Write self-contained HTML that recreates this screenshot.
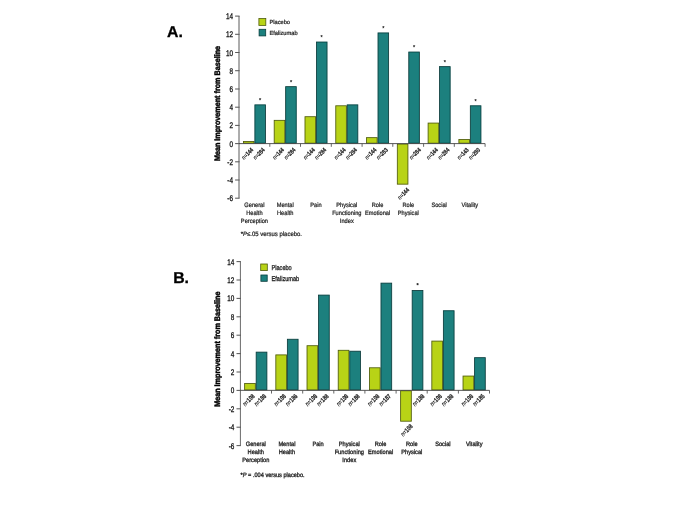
<!DOCTYPE html>
<html><head><meta charset="utf-8"><title>Figure</title>
<style>
html,body{margin:0;padding:0;background:#fff;}
body{width:685px;height:513px;overflow:hidden;font-family:"Liberation Sans",sans-serif;}
svg{display:block;font-family:"Liberation Sans",sans-serif;}
</style></head><body>
<svg width="685" height="513" viewBox="0 0 685 513" text-rendering="geometricPrecision">
<defs><filter id="soft" x="-5%" y="-5%" width="110%" height="110%"><feGaussianBlur stdDeviation="0.38"/></filter></defs>
<rect width="685" height="513" fill="#fff"/>
<g id="chartA" filter="url(#soft)">
<path d="M239.0 16.102000000000004V198.242" stroke="#6a6a6a" stroke-width="1.1" fill="none"/>
<path d="M235.1 198.2H239.55" stroke="#5a5a5a" stroke-width="1.05"/>
<text transform="translate(233.0,201.2) scale(0.78,1)" text-anchor="end" font-size="8.2" fill="#111" stroke="#111" stroke-width="0.3">-6</text>
<path d="M235.1 180.0H239.55" stroke="#5a5a5a" stroke-width="1.05"/>
<text transform="translate(233.0,183.0) scale(0.78,1)" text-anchor="end" font-size="8.2" fill="#111" stroke="#111" stroke-width="0.3">-4</text>
<path d="M235.1 161.8H239.55" stroke="#5a5a5a" stroke-width="1.05"/>
<text transform="translate(233.0,164.8) scale(0.78,1)" text-anchor="end" font-size="8.2" fill="#111" stroke="#111" stroke-width="0.3">-2</text>
<path d="M235.1 143.6H239.55" stroke="#5a5a5a" stroke-width="1.05"/>
<text transform="translate(233.0,146.6) scale(0.78,1)" text-anchor="end" font-size="8.2" fill="#111" stroke="#111" stroke-width="0.3">0</text>
<path d="M235.1 125.4H239.55" stroke="#5a5a5a" stroke-width="1.05"/>
<text transform="translate(233.0,128.4) scale(0.78,1)" text-anchor="end" font-size="8.2" fill="#111" stroke="#111" stroke-width="0.3">2</text>
<path d="M235.1 107.2H239.55" stroke="#5a5a5a" stroke-width="1.05"/>
<text transform="translate(233.0,110.2) scale(0.78,1)" text-anchor="end" font-size="8.2" fill="#111" stroke="#111" stroke-width="0.3">4</text>
<path d="M235.1 89.0H239.55" stroke="#5a5a5a" stroke-width="1.05"/>
<text transform="translate(233.0,92.0) scale(0.78,1)" text-anchor="end" font-size="8.2" fill="#111" stroke="#111" stroke-width="0.3">6</text>
<path d="M235.1 70.7H239.55" stroke="#5a5a5a" stroke-width="1.05"/>
<text transform="translate(233.0,73.7) scale(0.78,1)" text-anchor="end" font-size="8.2" fill="#111" stroke="#111" stroke-width="0.3">8</text>
<path d="M235.1 52.5H239.55" stroke="#5a5a5a" stroke-width="1.05"/>
<text transform="translate(233.0,55.5) scale(0.78,1)" text-anchor="end" font-size="8.2" fill="#111" stroke="#111" stroke-width="0.3">10</text>
<path d="M235.1 34.3H239.55" stroke="#5a5a5a" stroke-width="1.05"/>
<text transform="translate(233.0,37.3) scale(0.78,1)" text-anchor="end" font-size="8.2" fill="#111" stroke="#111" stroke-width="0.3">12</text>
<path d="M235.1 16.1H239.55" stroke="#5a5a5a" stroke-width="1.05"/>
<text transform="translate(233.0,19.1) scale(0.78,1)" text-anchor="end" font-size="8.2" fill="#111" stroke="#111" stroke-width="0.3">14</text>
<rect x="243.43" y="141.48" width="10.60" height="1.70" fill="#b8d316" stroke="#4f5c0a" stroke-width="0.85"/>
<text transform="translate(253.7,150.4) rotate(-45) scale(0.78,1)" text-anchor="end" font-size="6.2" fill="#161616" stroke="#161616" stroke-width="0.18"><tspan font-style="italic">n</tspan>=<tspan font-weight="bold">144</tspan></text>
<rect x="254.88" y="104.86" width="10.60" height="38.31" fill="#1a807e" stroke="#083c3c" stroke-width="0.85"/>
<text transform="translate(265.2,150.4) rotate(-45) scale(0.78,1)" text-anchor="end" font-size="6.2" fill="#161616" stroke="#161616" stroke-width="0.18"><tspan font-style="italic">n</tspan>=<tspan font-weight="bold">284</tspan></text>
<text x="260.2" y="101.8" text-anchor="middle" font-size="5.6" fill="#262626" stroke="#262626" stroke-width="0.24">*</text>
<rect x="274.20" y="120.35" width="10.60" height="22.83" fill="#b8d316" stroke="#4f5c0a" stroke-width="0.85"/>
<text transform="translate(284.5,150.4) rotate(-45) scale(0.78,1)" text-anchor="end" font-size="6.2" fill="#161616" stroke="#161616" stroke-width="0.18"><tspan font-style="italic">n</tspan>=<tspan font-weight="bold">144</tspan></text>
<rect x="285.65" y="86.65" width="10.60" height="56.52" fill="#1a807e" stroke="#083c3c" stroke-width="0.85"/>
<text transform="translate(296.0,150.4) rotate(-45) scale(0.78,1)" text-anchor="end" font-size="6.2" fill="#161616" stroke="#161616" stroke-width="0.18"><tspan font-style="italic">n</tspan>=<tspan font-weight="bold">284</tspan></text>
<text x="291.0" y="83.6" text-anchor="middle" font-size="5.6" fill="#262626" stroke="#262626" stroke-width="0.24">*</text>
<rect x="304.99" y="116.70" width="10.60" height="26.47" fill="#b8d316" stroke="#4f5c0a" stroke-width="0.85"/>
<text transform="translate(315.3,150.4) rotate(-45) scale(0.78,1)" text-anchor="end" font-size="6.2" fill="#161616" stroke="#161616" stroke-width="0.18"><tspan font-style="italic">n</tspan>=<tspan font-weight="bold">144</tspan></text>
<rect x="316.44" y="42.03" width="10.60" height="101.15" fill="#1a807e" stroke="#083c3c" stroke-width="0.85"/>
<text transform="translate(326.7,150.4) rotate(-45) scale(0.78,1)" text-anchor="end" font-size="6.2" fill="#161616" stroke="#161616" stroke-width="0.18"><tspan font-style="italic">n</tspan>=<tspan font-weight="bold">284</tspan></text>
<text x="321.7" y="39.0" text-anchor="middle" font-size="5.6" fill="#262626" stroke="#262626" stroke-width="0.24">*</text>
<rect x="335.77" y="105.78" width="10.60" height="37.40" fill="#b8d316" stroke="#4f5c0a" stroke-width="0.85"/>
<text transform="translate(346.1,150.4) rotate(-45) scale(0.78,1)" text-anchor="end" font-size="6.2" fill="#161616" stroke="#161616" stroke-width="0.18"><tspan font-style="italic">n</tspan>=<tspan font-weight="bold">144</tspan></text>
<rect x="347.22" y="104.86" width="10.60" height="38.31" fill="#1a807e" stroke="#083c3c" stroke-width="0.85"/>
<text transform="translate(357.5,150.4) rotate(-45) scale(0.78,1)" text-anchor="end" font-size="6.2" fill="#161616" stroke="#161616" stroke-width="0.18"><tspan font-style="italic">n</tspan>=<tspan font-weight="bold">284</tspan></text>
<rect x="366.55" y="137.65" width="10.60" height="5.52" fill="#b8d316" stroke="#4f5c0a" stroke-width="0.85"/>
<text transform="translate(376.8,150.4) rotate(-45) scale(0.78,1)" text-anchor="end" font-size="6.2" fill="#161616" stroke="#161616" stroke-width="0.18"><tspan font-style="italic">n</tspan>=<tspan font-weight="bold">144</tspan></text>
<rect x="378.00" y="32.92" width="10.60" height="110.26" fill="#1a807e" stroke="#083c3c" stroke-width="0.85"/>
<text transform="translate(388.3,150.4) rotate(-45) scale(0.78,1)" text-anchor="end" font-size="6.2" fill="#161616" stroke="#161616" stroke-width="0.18"><tspan font-style="italic">n</tspan>=<tspan font-weight="bold">283</tspan></text>
<text x="383.3" y="29.9" text-anchor="middle" font-size="5.6" fill="#262626" stroke="#262626" stroke-width="0.24">*</text>
<rect x="397.32" y="144.03" width="10.60" height="40.13" fill="#b8d316" stroke="#4f5c0a" stroke-width="0.85"/>
<text transform="translate(409.6,190.4) rotate(-45) scale(0.78,1)" text-anchor="end" font-size="6.2" fill="#161616" stroke="#161616" stroke-width="0.18"><tspan font-style="italic">n</tspan>=<tspan font-weight="bold">144</tspan></text>
<rect x="408.77" y="52.04" width="10.60" height="91.13" fill="#1a807e" stroke="#083c3c" stroke-width="0.85"/>
<text transform="translate(421.3,150.4) rotate(-45) scale(0.78,1)" text-anchor="end" font-size="6.2" fill="#161616" stroke="#161616" stroke-width="0.18"><tspan font-style="italic">n</tspan>=<tspan font-weight="bold">284</tspan></text>
<text x="414.1" y="49.0" text-anchor="middle" font-size="5.6" fill="#262626" stroke="#262626" stroke-width="0.24">*</text>
<rect x="428.11" y="123.08" width="10.60" height="20.10" fill="#b8d316" stroke="#4f5c0a" stroke-width="0.85"/>
<text transform="translate(438.4,150.4) rotate(-45) scale(0.78,1)" text-anchor="end" font-size="6.2" fill="#161616" stroke="#161616" stroke-width="0.18"><tspan font-style="italic">n</tspan>=<tspan font-weight="bold">144</tspan></text>
<rect x="439.56" y="66.62" width="10.60" height="76.56" fill="#1a807e" stroke="#083c3c" stroke-width="0.85"/>
<text transform="translate(449.9,150.4) rotate(-45) scale(0.78,1)" text-anchor="end" font-size="6.2" fill="#161616" stroke="#161616" stroke-width="0.18"><tspan font-style="italic">n</tspan>=<tspan font-weight="bold">284</tspan></text>
<text x="444.9" y="63.6" text-anchor="middle" font-size="5.6" fill="#262626" stroke="#262626" stroke-width="0.24">*</text>
<rect x="458.89" y="139.47" width="10.60" height="3.70" fill="#b8d316" stroke="#4f5c0a" stroke-width="0.85"/>
<text transform="translate(469.2,150.4) rotate(-45) scale(0.78,1)" text-anchor="end" font-size="6.2" fill="#161616" stroke="#161616" stroke-width="0.18"><tspan font-style="italic">n</tspan>=<tspan font-weight="bold">143</tspan></text>
<rect x="470.34" y="105.78" width="10.60" height="37.40" fill="#1a807e" stroke="#083c3c" stroke-width="0.85"/>
<text transform="translate(480.6,150.4) rotate(-45) scale(0.78,1)" text-anchor="end" font-size="6.2" fill="#161616" stroke="#161616" stroke-width="0.18"><tspan font-style="italic">n</tspan>=<tspan font-weight="bold">280</tspan></text>
<text x="475.6" y="102.8" text-anchor="middle" font-size="5.6" fill="#262626" stroke="#262626" stroke-width="0.24">*</text>
<path d="M239.0 143.6H485.1" stroke="#444" stroke-width="0.9" fill="none"/>
<path d="M269.8 143.6v3.2" stroke="#4a4a4a" stroke-width="0.85"/>
<path d="M300.5 143.6v3.2" stroke="#4a4a4a" stroke-width="0.85"/>
<path d="M331.3 143.6v3.2" stroke="#4a4a4a" stroke-width="0.85"/>
<path d="M362.1 143.6v3.2" stroke="#4a4a4a" stroke-width="0.85"/>
<path d="M392.8 143.6v3.2" stroke="#4a4a4a" stroke-width="0.85"/>
<path d="M423.6 143.6v3.2" stroke="#4a4a4a" stroke-width="0.85"/>
<path d="M454.3 143.6v3.2" stroke="#4a4a4a" stroke-width="0.85"/>
<path d="M485.1 143.6v3.2" stroke="#4a4a4a" stroke-width="0.85"/>
<rect x="258.9" y="18.5" width="6.9" height="6.9" fill="#b8d316" stroke="#4f5c0a" stroke-width="0.8"/>
<rect x="259.09999999999997" y="29.3" width="6.6000000000000005" height="6.6000000000000005" fill="#1a807e" stroke="#083c3c" stroke-width="0.8"/>
<text transform="translate(269.4,24.1) scale(0.97,1)" font-size="5.9" fill="#262626" stroke="#262626" stroke-width="0.24">Placebo</text>
<text transform="translate(269.4,34.9) scale(0.97,1)" font-size="5.9" fill="#262626" stroke="#262626" stroke-width="0.24">Efalizumab</text>
<text transform="translate(254.4,207.2) scale(0.9,1)" text-anchor="middle" font-size="6.3" fill="#262626" stroke="#262626" stroke-width="0.24">General</text>
<text transform="translate(254.4,215.1) scale(0.9,1)" text-anchor="middle" font-size="6.3" fill="#262626" stroke="#262626" stroke-width="0.24">Health</text>
<text transform="translate(254.4,222.8) scale(0.9,1)" text-anchor="middle" font-size="6.3" fill="#262626" stroke="#262626" stroke-width="0.24">Perception</text>
<text transform="translate(285.2,207.2) scale(0.9,1)" text-anchor="middle" font-size="6.3" fill="#262626" stroke="#262626" stroke-width="0.24">Mental</text>
<text transform="translate(285.2,215.1) scale(0.9,1)" text-anchor="middle" font-size="6.3" fill="#262626" stroke="#262626" stroke-width="0.24">Health</text>
<text transform="translate(316.0,207.2) scale(0.9,1)" text-anchor="middle" font-size="6.3" fill="#262626" stroke="#262626" stroke-width="0.24">Pain</text>
<text transform="translate(346.8,207.2) scale(0.9,1)" text-anchor="middle" font-size="6.3" fill="#262626" stroke="#262626" stroke-width="0.24">Physical</text>
<text transform="translate(346.8,215.1) scale(0.9,1)" text-anchor="middle" font-size="6.3" fill="#262626" stroke="#262626" stroke-width="0.24">Functioning</text>
<text transform="translate(346.8,222.8) scale(0.9,1)" text-anchor="middle" font-size="6.3" fill="#262626" stroke="#262626" stroke-width="0.24">Index</text>
<text transform="translate(377.6,207.2) scale(0.9,1)" text-anchor="middle" font-size="6.3" fill="#262626" stroke="#262626" stroke-width="0.24">Role</text>
<text transform="translate(377.6,215.1) scale(0.9,1)" text-anchor="middle" font-size="6.3" fill="#262626" stroke="#262626" stroke-width="0.24">Emotional</text>
<text transform="translate(408.3,207.2) scale(0.9,1)" text-anchor="middle" font-size="6.3" fill="#262626" stroke="#262626" stroke-width="0.24">Role</text>
<text transform="translate(408.3,215.1) scale(0.9,1)" text-anchor="middle" font-size="6.3" fill="#262626" stroke="#262626" stroke-width="0.24">Physical</text>
<text transform="translate(439.1,207.2) scale(0.9,1)" text-anchor="middle" font-size="6.3" fill="#262626" stroke="#262626" stroke-width="0.24">Social</text>
<text transform="translate(469.9,207.2) scale(0.9,1)" text-anchor="middle" font-size="6.3" fill="#262626" stroke="#262626" stroke-width="0.24">Vitality</text>
<text transform="translate(240.8,236.25) scale(0.945,1)" font-size="6.3" fill="#262626" stroke="#262626" stroke-width="0.24">*<tspan font-style="italic">P</tspan>≤.05 versus placebo.</text>
<text transform="translate(219.8,103.5) rotate(-90) scale(0.9,1)" text-anchor="middle" font-size="8" font-weight="bold" fill="#050505" stroke="#050505" stroke-width="0.42">Mean Improvement from Baseline</text>
<text x="167.0" y="37.0" font-size="15.8" font-weight="bold" fill="#000" stroke="#000" stroke-width="0.3">A.</text>
</g>
<g id="chartB" filter="url(#soft)">
<path d="M240.4 261.55000000000007V445.55" stroke="#6a6a6a" stroke-width="1.0" fill="none"/>
<path d="M236.5 445.6H240.90" stroke="#5a5a5a" stroke-width="1.05"/>
<text transform="translate(234.4,448.6) scale(0.78,1)" text-anchor="end" font-size="8.2" fill="#111" stroke="#111" stroke-width="0.3">-6</text>
<path d="M236.5 427.2H240.90" stroke="#5a5a5a" stroke-width="1.05"/>
<text transform="translate(234.4,430.2) scale(0.78,1)" text-anchor="end" font-size="8.2" fill="#111" stroke="#111" stroke-width="0.3">-4</text>
<path d="M236.5 408.8H240.90" stroke="#5a5a5a" stroke-width="1.05"/>
<text transform="translate(234.4,411.8) scale(0.78,1)" text-anchor="end" font-size="8.2" fill="#111" stroke="#111" stroke-width="0.3">-2</text>
<path d="M236.5 390.4H240.90" stroke="#5a5a5a" stroke-width="1.05"/>
<text transform="translate(234.4,393.4) scale(0.78,1)" text-anchor="end" font-size="8.2" fill="#111" stroke="#111" stroke-width="0.3">0</text>
<path d="M236.5 372.0H240.90" stroke="#5a5a5a" stroke-width="1.05"/>
<text transform="translate(234.4,375.0) scale(0.78,1)" text-anchor="end" font-size="8.2" fill="#111" stroke="#111" stroke-width="0.3">2</text>
<path d="M236.5 353.6H240.90" stroke="#5a5a5a" stroke-width="1.05"/>
<text transform="translate(234.4,356.6) scale(0.78,1)" text-anchor="end" font-size="8.2" fill="#111" stroke="#111" stroke-width="0.3">4</text>
<path d="M236.5 335.2H240.90" stroke="#5a5a5a" stroke-width="1.05"/>
<text transform="translate(234.4,338.2) scale(0.78,1)" text-anchor="end" font-size="8.2" fill="#111" stroke="#111" stroke-width="0.3">6</text>
<path d="M236.5 316.8H240.90" stroke="#5a5a5a" stroke-width="1.05"/>
<text transform="translate(234.4,319.8) scale(0.78,1)" text-anchor="end" font-size="8.2" fill="#111" stroke="#111" stroke-width="0.3">8</text>
<path d="M236.5 298.4H240.90" stroke="#5a5a5a" stroke-width="1.05"/>
<text transform="translate(234.4,301.4) scale(0.78,1)" text-anchor="end" font-size="8.2" fill="#111" stroke="#111" stroke-width="0.3">10</text>
<path d="M236.5 280.0H240.90" stroke="#5a5a5a" stroke-width="1.05"/>
<text transform="translate(234.4,283.0) scale(0.78,1)" text-anchor="end" font-size="8.2" fill="#111" stroke="#111" stroke-width="0.3">12</text>
<path d="M236.5 261.6H240.90" stroke="#5a5a5a" stroke-width="1.05"/>
<text transform="translate(234.4,264.6) scale(0.78,1)" text-anchor="end" font-size="8.2" fill="#111" stroke="#111" stroke-width="0.3">14</text>
<rect x="244.62" y="383.42" width="10.70" height="6.51" fill="#b8d316" stroke="#4f5c0a" stroke-width="0.85"/>
<text transform="translate(255.2,396.7) rotate(-45) scale(0.755,1)" text-anchor="end" font-size="6.6" fill="#161616" stroke="#161616" stroke-width="0.18"><tspan font-style="italic">n</tspan>=<tspan font-weight="bold">108</tspan></text>
<rect x="256.18" y="352.14" width="10.70" height="37.79" fill="#1a807e" stroke="#083c3c" stroke-width="0.85"/>
<text transform="translate(266.7,396.7) rotate(-45) scale(0.755,1)" text-anchor="end" font-size="6.6" fill="#161616" stroke="#161616" stroke-width="0.18"><tspan font-style="italic">n</tspan>=<tspan font-weight="bold">188</tspan></text>
<rect x="275.82" y="354.90" width="10.70" height="35.03" fill="#b8d316" stroke="#4f5c0a" stroke-width="0.85"/>
<text transform="translate(286.4,396.7) rotate(-45) scale(0.755,1)" text-anchor="end" font-size="6.6" fill="#161616" stroke="#161616" stroke-width="0.18"><tspan font-style="italic">n</tspan>=<tspan font-weight="bold">108</tspan></text>
<rect x="287.38" y="339.26" width="10.70" height="50.67" fill="#1a807e" stroke="#083c3c" stroke-width="0.85"/>
<text transform="translate(297.9,396.7) rotate(-45) scale(0.755,1)" text-anchor="end" font-size="6.6" fill="#161616" stroke="#161616" stroke-width="0.18"><tspan font-style="italic">n</tspan>=<tspan font-weight="bold">186</tspan></text>
<rect x="307.02" y="345.70" width="10.70" height="44.23" fill="#b8d316" stroke="#4f5c0a" stroke-width="0.85"/>
<text transform="translate(317.6,396.7) rotate(-45) scale(0.755,1)" text-anchor="end" font-size="6.6" fill="#161616" stroke="#161616" stroke-width="0.18"><tspan font-style="italic">n</tspan>=<tspan font-weight="bold">108</tspan></text>
<rect x="318.57" y="295.10" width="10.70" height="94.83" fill="#1a807e" stroke="#083c3c" stroke-width="0.85"/>
<text transform="translate(329.1,396.7) rotate(-45) scale(0.755,1)" text-anchor="end" font-size="6.6" fill="#161616" stroke="#161616" stroke-width="0.18"><tspan font-style="italic">n</tspan>=<tspan font-weight="bold">188</tspan></text>
<rect x="338.22" y="350.30" width="10.70" height="39.63" fill="#b8d316" stroke="#4f5c0a" stroke-width="0.85"/>
<text transform="translate(348.8,396.7) rotate(-45) scale(0.755,1)" text-anchor="end" font-size="6.6" fill="#161616" stroke="#161616" stroke-width="0.18"><tspan font-style="italic">n</tspan>=<tspan font-weight="bold">108</tspan></text>
<rect x="349.77" y="351.22" width="10.70" height="38.71" fill="#1a807e" stroke="#083c3c" stroke-width="0.85"/>
<text transform="translate(360.3,396.7) rotate(-45) scale(0.755,1)" text-anchor="end" font-size="6.6" fill="#161616" stroke="#161616" stroke-width="0.18"><tspan font-style="italic">n</tspan>=<tspan font-weight="bold">188</tspan></text>
<rect x="369.43" y="367.78" width="10.70" height="22.15" fill="#b8d316" stroke="#4f5c0a" stroke-width="0.85"/>
<text transform="translate(380.0,396.7) rotate(-45) scale(0.755,1)" text-anchor="end" font-size="6.6" fill="#161616" stroke="#161616" stroke-width="0.18"><tspan font-style="italic">n</tspan>=<tspan font-weight="bold">108</tspan></text>
<rect x="380.98" y="283.14" width="10.70" height="106.79" fill="#1a807e" stroke="#083c3c" stroke-width="0.85"/>
<text transform="translate(391.5,396.7) rotate(-45) scale(0.755,1)" text-anchor="end" font-size="6.6" fill="#161616" stroke="#161616" stroke-width="0.18"><tspan font-style="italic">n</tspan>=<tspan font-weight="bold">187</tspan></text>
<rect x="400.62" y="390.78" width="10.70" height="30.43" fill="#b8d316" stroke="#4f5c0a" stroke-width="0.85"/>
<text transform="translate(413.2,426.9) rotate(-45) scale(0.755,1)" text-anchor="end" font-size="6.6" fill="#161616" stroke="#161616" stroke-width="0.18"><tspan font-style="italic">n</tspan>=<tspan font-weight="bold">108</tspan></text>
<rect x="412.18" y="290.50" width="10.70" height="99.43" fill="#1a807e" stroke="#083c3c" stroke-width="0.85"/>
<text transform="translate(424.9,396.7) rotate(-45) scale(0.755,1)" text-anchor="end" font-size="6.6" fill="#161616" stroke="#161616" stroke-width="0.18"><tspan font-style="italic">n</tspan>=<tspan font-weight="bold">188</tspan></text>
<text x="417.5" y="286.8" text-anchor="middle" font-size="5.6" fill="#262626" stroke="#262626" stroke-width="0.32">*</text>
<rect x="431.82" y="341.10" width="10.70" height="48.83" fill="#b8d316" stroke="#4f5c0a" stroke-width="0.85"/>
<text transform="translate(442.4,396.7) rotate(-45) scale(0.755,1)" text-anchor="end" font-size="6.6" fill="#161616" stroke="#161616" stroke-width="0.18"><tspan font-style="italic">n</tspan>=<tspan font-weight="bold">108</tspan></text>
<rect x="443.38" y="310.74" width="10.70" height="79.19" fill="#1a807e" stroke="#083c3c" stroke-width="0.85"/>
<text transform="translate(453.9,396.7) rotate(-45) scale(0.755,1)" text-anchor="end" font-size="6.6" fill="#161616" stroke="#161616" stroke-width="0.18"><tspan font-style="italic">n</tspan>=<tspan font-weight="bold">188</tspan></text>
<rect x="463.03" y="376.06" width="10.70" height="13.87" fill="#b8d316" stroke="#4f5c0a" stroke-width="0.85"/>
<text transform="translate(473.6,396.7) rotate(-45) scale(0.755,1)" text-anchor="end" font-size="6.6" fill="#161616" stroke="#161616" stroke-width="0.18"><tspan font-style="italic">n</tspan>=<tspan font-weight="bold">108</tspan></text>
<rect x="474.58" y="357.66" width="10.70" height="32.27" fill="#1a807e" stroke="#083c3c" stroke-width="0.85"/>
<text transform="translate(485.1,396.7) rotate(-45) scale(0.755,1)" text-anchor="end" font-size="6.6" fill="#161616" stroke="#161616" stroke-width="0.18"><tspan font-style="italic">n</tspan>=<tspan font-weight="bold">185</tspan></text>
<path d="M240.4 390.35H489.5" stroke="#444" stroke-width="0.9" fill="none"/>
<path d="M271.5 390.35v3.2" stroke="#4a4a4a" stroke-width="0.85"/>
<path d="M302.7 390.35v3.2" stroke="#4a4a4a" stroke-width="0.85"/>
<path d="M333.8 390.35v3.2" stroke="#4a4a4a" stroke-width="0.85"/>
<path d="M364.9 390.35v3.2" stroke="#4a4a4a" stroke-width="0.85"/>
<path d="M396.1 390.35v3.2" stroke="#4a4a4a" stroke-width="0.85"/>
<path d="M427.2 390.35v3.2" stroke="#4a4a4a" stroke-width="0.85"/>
<path d="M458.4 390.35v3.2" stroke="#4a4a4a" stroke-width="0.85"/>
<path d="M489.5 390.35v3.2" stroke="#4a4a4a" stroke-width="0.85"/>
<rect x="260.7" y="264.0" width="6.6" height="6.6" fill="#b8d316" stroke="#4f5c0a" stroke-width="0.8"/>
<rect x="260.9" y="275.0" width="6.3" height="6.3" fill="#1a807e" stroke="#083c3c" stroke-width="0.8"/>
<text transform="translate(271.5,270.4) scale(0.8,1)" font-size="7.0" fill="#262626" stroke="#262626" stroke-width="0.32">Placebo</text>
<text transform="translate(271.5,280.9) scale(0.8,1)" font-size="7.0" fill="#262626" stroke="#262626" stroke-width="0.32">Efalizumab</text>
<text transform="translate(255.8,445.9) scale(0.9,1)" text-anchor="middle" font-size="6.3" fill="#262626" stroke="#262626" stroke-width="0.32">General</text>
<text transform="translate(255.8,453.8) scale(0.9,1)" text-anchor="middle" font-size="6.3" fill="#262626" stroke="#262626" stroke-width="0.32">Health</text>
<text transform="translate(255.8,461.6) scale(0.9,1)" text-anchor="middle" font-size="6.3" fill="#262626" stroke="#262626" stroke-width="0.32">Perception</text>
<text transform="translate(286.9,445.9) scale(0.9,1)" text-anchor="middle" font-size="6.3" fill="#262626" stroke="#262626" stroke-width="0.32">Mental</text>
<text transform="translate(286.9,453.8) scale(0.9,1)" text-anchor="middle" font-size="6.3" fill="#262626" stroke="#262626" stroke-width="0.32">Health</text>
<text transform="translate(318.1,445.9) scale(0.9,1)" text-anchor="middle" font-size="6.3" fill="#262626" stroke="#262626" stroke-width="0.32">Pain</text>
<text transform="translate(349.3,445.9) scale(0.9,1)" text-anchor="middle" font-size="6.3" fill="#262626" stroke="#262626" stroke-width="0.32">Physical</text>
<text transform="translate(349.3,453.8) scale(0.9,1)" text-anchor="middle" font-size="6.3" fill="#262626" stroke="#262626" stroke-width="0.32">Functioning</text>
<text transform="translate(349.3,461.6) scale(0.9,1)" text-anchor="middle" font-size="6.3" fill="#262626" stroke="#262626" stroke-width="0.32">Index</text>
<text transform="translate(380.6,445.9) scale(0.9,1)" text-anchor="middle" font-size="6.3" fill="#262626" stroke="#262626" stroke-width="0.32">Role</text>
<text transform="translate(380.6,453.8) scale(0.9,1)" text-anchor="middle" font-size="6.3" fill="#262626" stroke="#262626" stroke-width="0.32">Emotional</text>
<text transform="translate(411.8,445.9) scale(0.9,1)" text-anchor="middle" font-size="6.3" fill="#262626" stroke="#262626" stroke-width="0.32">Role</text>
<text transform="translate(411.8,453.8) scale(0.9,1)" text-anchor="middle" font-size="6.3" fill="#262626" stroke="#262626" stroke-width="0.32">Physical</text>
<text transform="translate(442.9,445.9) scale(0.9,1)" text-anchor="middle" font-size="6.3" fill="#262626" stroke="#262626" stroke-width="0.32">Social</text>
<text transform="translate(474.2,445.9) scale(0.9,1)" text-anchor="middle" font-size="6.3" fill="#262626" stroke="#262626" stroke-width="0.32">Vitality</text>
<text transform="translate(240.6,477.3) scale(0.89,1)" font-size="6.3" fill="#262626" stroke="#262626" stroke-width="0.32">*<tspan font-style="italic">P</tspan> = .004 versus placebo.</text>
<text transform="translate(220.2,349.2) rotate(-90) scale(0.9,1)" text-anchor="middle" font-size="8" font-weight="bold" fill="#050505" stroke="#050505" stroke-width="0.42">Mean Improvement from Baseline</text>
<text x="173.2" y="282.7" font-size="15.8" font-weight="bold" fill="#000" stroke="#000" stroke-width="0.3">B.</text>
</g>
</svg>
</body></html>
